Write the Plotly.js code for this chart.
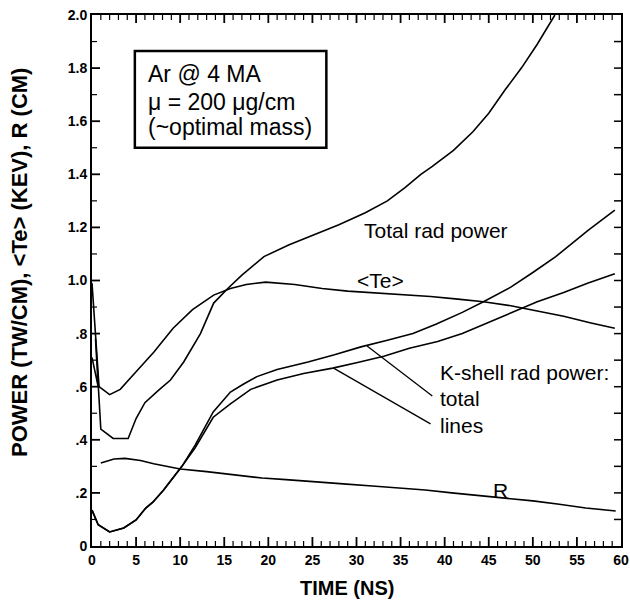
<!DOCTYPE html>
<html>
<head>
<meta charset="utf-8">
<script src="https://cdn.plot.ly/plotly-3.0.1.min.js"></script>
<style>html,body{margin:0;padding:0;background:#fff;}#chart{width:630px;height:600px;}</style>
</head>
<body>
<div id="chart"></div>
<script>
// ---- Data ----
// Total rad power (TW/cm)
const timeTotal = [0, 0.7, 0.4, 1.0, 2.4, 4.1, 5.0, 6.0, 7.5, 8.9, 10.4, 12.3, 13.8, 15.4, 17.0, 19.5, 22.3, 25.0, 28.0, 31.0, 33.5, 35.5, 37.3, 38.6, 41.0, 43.2, 45.0, 46.9, 48.7, 50.5, 52.5];
const powerTotal = [0.71, 0.60, 0.78, 0.44, 0.405, 0.405, 0.48, 0.54, 0.585, 0.625, 0.693, 0.80, 0.915, 0.97, 1.02, 1.09, 1.134, 1.17, 1.21, 1.255, 1.30, 1.35, 1.40, 1.43, 1.49, 1.56, 1.63, 1.72, 1.80, 1.89, 2.0];

// <Te> (keV)
const timeTe = [0, 0.8, 2.0, 3.2, 5.1, 7.0, 9.2, 11.4, 13.8, 15.7, 17.5, 19.7, 23.0, 26.1, 29.0, 32.2, 35.0, 38.4, 41.5, 44.4, 47.5, 50.5, 53.5, 56.6, 59.3];
const te = [0.99, 0.60, 0.57, 0.59, 0.66, 0.73, 0.82, 0.89, 0.945, 0.97, 0.985, 0.994, 0.985, 0.97, 0.96, 0.953, 0.945, 0.94, 0.93, 0.92, 0.905, 0.885, 0.865, 0.84, 0.82];

// K-shell rad power: total
const timeKTotal = [0, 0.7, 2.0, 3.6, 5.0, 6.1, 6.9, 8.1, 10.2, 11.7, 13.75, 15.7, 17.2, 18.7, 21.0, 24.5, 27.5, 30.5, 33.5, 36.4, 39.0, 42.0, 44.4, 47.5, 50.0, 52.6, 56.3, 59.3];
const powerKTotal = [0.135, 0.08, 0.053, 0.068, 0.098, 0.143, 0.165, 0.21, 0.30, 0.38, 0.505, 0.58, 0.61, 0.638, 0.665, 0.693, 0.72, 0.75, 0.775, 0.80, 0.835, 0.88, 0.92, 0.975, 1.03, 1.09, 1.19, 1.265];

// K-shell rad power: lines
const timeKLines = [0, 0.7, 2.0, 3.6, 5.0, 6.1, 6.9, 8.1, 10.2, 11.7, 13.75, 15.7, 18.0, 21.0, 24.0, 27.3, 30.0, 33.1, 36.0, 39.2, 42.0, 44.9, 47.7, 50.5, 53.5, 56.2, 59.3];
const powerKLines = [0.135, 0.08, 0.053, 0.068, 0.098, 0.143, 0.165, 0.21, 0.30, 0.37, 0.485, 0.535, 0.59, 0.625, 0.65, 0.67, 0.69, 0.715, 0.745, 0.77, 0.80, 0.84, 0.88, 0.92, 0.955, 0.99, 1.025];

// R (cm)
const timeR = [1.0, 2.5, 3.75, 5.5, 7.0, 10.0, 13.0, 16.0, 19.3, 22.0, 25.3, 28.5, 31.8, 34.8, 37.8, 40.8, 43.9, 47.0, 50.0, 53.0, 56.0, 59.4];
const radius = [0.313, 0.328, 0.33, 0.322, 0.31, 0.29, 0.28, 0.268, 0.256, 0.25, 0.243, 0.234, 0.226, 0.218, 0.211, 0.20, 0.19, 0.18, 0.17, 0.157, 0.143, 0.132];

// Tick labels
const xTickVals = [0, 5, 10, 15, 20, 25, 30, 35, 40, 45, 50, 55, 60];
const yTickVals = [0, 0.2, 0.4, 0.6, 0.8, 1.0, 1.2, 1.4, 1.6, 1.8, 2.0];
const yTickText = ['0', '.2', '.4', '.6', '.8', '1.0', '1.2', '1.4', '1.6', '1.8', '2.0'];

// ---- Plot ----
const FAM = 'Liberation Sans';
const lineStyle = {color: '#000', width: 1.6};
const mk = (x, y, name) => ({x: x, y: y, name: name, type: 'scatter', mode: 'lines', line: lineStyle});

const traces = [
  mk(timeTotal, powerTotal, 'Total rad power'),
  mk(timeTe, te, 'Te'),
  mk(timeKTotal, powerKTotal, 'K-shell total'),
  mk(timeKLines, powerKLines, 'K-shell lines'),
  mk(timeR, radius, 'R')
];

// Inward tick marks on all four sides (placed through the axes' scales, sized in pixels)
const tickShapes = [];
const isMajorX = t => xTickVals.indexOf(t) >= 0;
const isMajorY = v => yTickVals.some(m => Math.abs(m - v) < 1e-9);
for (let t = 1; t < 60; t++) {
  const major = isMajorX(t);
  const w = major ? 1.8 : 1.2;
  tickShapes.push({type: 'line', xref: 'x', yref: 'paper', ysizemode: 'pixel', yanchor: 0, x0: t, x1: t, y0: 0, y1: major ? 9 : 5, line: {color: '#000', width: w}});
  tickShapes.push({type: 'line', xref: 'x', yref: 'paper', ysizemode: 'pixel', yanchor: 1, x0: t, x1: t, y0: 0, y1: major ? -8 : -5, line: {color: '#000', width: w}});
}
for (let k = 1; k < 20; k++) {
  const v = k / 10;
  const major = isMajorY(v);
  tickShapes.push({type: 'line', xref: 'paper', yref: 'y', xsizemode: 'pixel', xanchor: 0, y0: v, y1: v, x0: 0, x1: major ? 8 : 5, line: {color: '#000', width: major ? 1.8 : 1.2}});
  tickShapes.push({type: 'line', xref: 'paper', yref: 'y', xsizemode: 'pixel', xanchor: 1, y0: v, y1: v, x0: 0, x1: -7, line: {color: '#000', width: 1.5}});
}

const tickFont = {family: FAM, size: 14, color: '#000', weight: 'bold'};
const titleFont = {family: FAM, size: 20, color: '#000', weight: 'bold'};
const yTitleFont = {family: FAM, size: 22, color: '#000', weight: 'bold'};
const labelFont = {family: FAM, size: 21, color: '#000'};
const boxFont = {family: FAM, size: 23, color: '#000'};

const layout = {
  width: 630, height: 600,
  margin: {l: 92, r: 9, t: 15, b: 54},
  showlegend: false,
  xaxis: {
    range: [0, 60], showgrid: false, zeroline: false,
    showline: true, linecolor: '#000', linewidth: 2, mirror: true,
    tickmode: 'array', tickvals: xTickVals, tickfont: tickFont, ticks: ''
  },
  yaxis: {
    range: [0, 2.0], showgrid: false, zeroline: false,
    showline: true, linecolor: '#000', linewidth: 2, mirror: true,
    tickmode: 'array', tickvals: yTickVals, ticktext: yTickText, tickfont: tickFont, ticks: ''
  },
  annotations: [
    // axis titles
    {xref: 'paper', yref: 'paper', x: 0.482, y: -0.079, xanchor: 'center', yanchor: 'middle',
     text: 'TIME (NS)', showarrow: false, font: titleFont},
    {xref: 'paper', yref: 'paper', x: -0.136, y: 0.533, xanchor: 'center', yanchor: 'middle', textangle: -90,
     text: 'POWER (TW/CM), &lt;Te&gt; (KEV), R (CM)', showarrow: false, font: yTitleFont},
    // boxed note
    {xref: 'paper', yref: 'paper', x: 0.102, y: 0.889, xanchor: 'left', yanchor: 'middle', text: 'Ar @ 4 MA', showarrow: false, font: boxFont},
    {xref: 'paper', yref: 'paper', x: 0.102, y: 0.836, xanchor: 'left', yanchor: 'middle', text: 'μ = 200 μg/cm', showarrow: false, font: boxFont},
    {xref: 'paper', yref: 'paper', x: 0.102, y: 0.789, xanchor: 'left', yanchor: 'middle', text: '(~optimal mass)', showarrow: false, font: boxFont},
    // curve labels
    {xref: 'x', yref: 'y', x: 30.6, y: 1.19, xanchor: 'left', yanchor: 'middle', text: 'Total rad power', showarrow: false, font: labelFont},
    {xref: 'x', yref: 'y', x: 29.8, y: 1.0, xanchor: 'left', yanchor: 'middle', text: '&lt;Te&gt;', showarrow: false, font: labelFont},
    {xref: 'x', yref: 'y', x: 39.2, y: 0.655, xanchor: 'left', yanchor: 'middle', text: 'K-shell rad power:', showarrow: false, font: labelFont},
    {xref: 'x', yref: 'y', x: 39.2, y: 0.555, xanchor: 'left', yanchor: 'middle', text: 'total', showarrow: false, font: labelFont},
    {xref: 'x', yref: 'y', x: 39.2, y: 0.455, xanchor: 'left', yanchor: 'middle', text: 'lines', showarrow: false, font: labelFont},
    {xref: 'x', yref: 'y', x: 45.3, y: 0.21, xanchor: 'left', yanchor: 'middle', text: 'R', showarrow: false, font: labelFont}
  ],
  shapes: [
    {type: 'rect', xref: 'paper', yref: 'paper', x0: 0.081, y0: 0.75, x1: 0.443, y1: 0.932, line: {color: '#000', width: 2.5}},
    {type: 'line', xref: 'x', yref: 'y', x0: 31.2, y0: 0.753, x1: 38.6, y1: 0.565, line: {color: '#000', width: 1.3}},
    {type: 'line', xref: 'x', yref: 'y', x0: 27.4, y0: 0.67, x1: 38.4, y1: 0.46, line: {color: '#000', width: 1.3}}
  ].concat(tickShapes)
};

Plotly.newPlot('chart', traces, layout, {displayModeBar: false, staticPlot: true});
</script>
</body>
</html>
